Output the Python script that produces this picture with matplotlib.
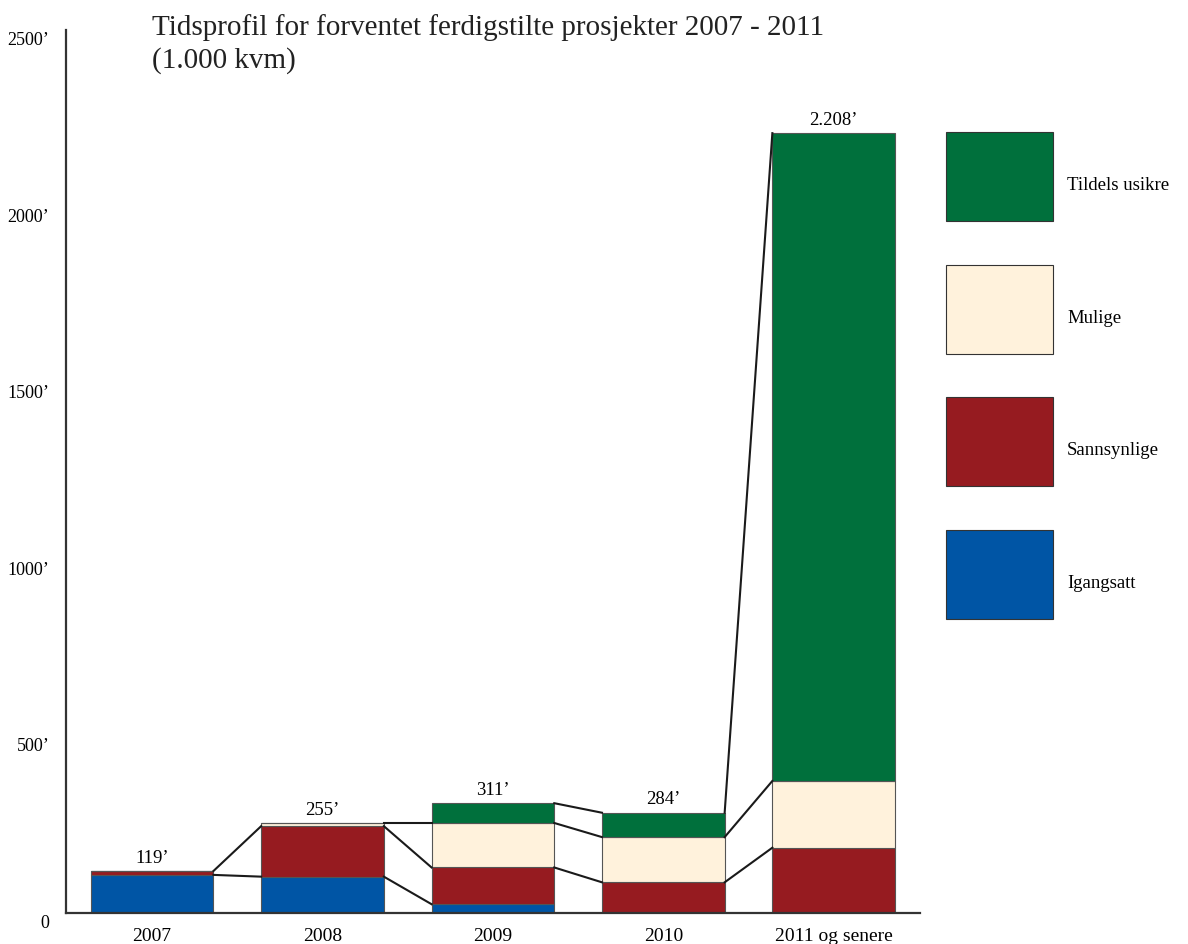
import numpy as np
import matplotlib
matplotlib.use("Agg")
import matplotlib.pyplot as plt
from matplotlib.patches import Rectangle
import matplotlib.transforms as mtransforms

plt.rcParams['font.family'] = ['Liberation Serif', 'DejaVu Serif']

# Ferdigstilte prosjekter (1.000 kvm) per år og status
aar = ["2007", "2008", "2009", "2010", "2011 og senere"]
igangsatt = [108, 103, 25, 0, 0]
sannsynlige = [11, 143, 104, 87, 185]
mulige = [0, 9, 126, 128, 189]
tildels_usikre = [0, 0, 56, 69, 1834]

serier = ["Igangsatt", "Sannsynlige", "Mulige", "Tildels usikre"]
farger = ["#0055a5", "#961b20", "#fff2dc", "#00703c"]
yticks = [0, 500, 1000, 1500, 2000, 2500]

fig = plt.figure(figsize=(11.88, 9.44), dpi=100)
ax = fig.add_axes([0.0556, 0.0328, 0.7189, 0.9354])

verdier = np.array([igangsatt, sannsynlige, mulige, tildels_usikre], dtype=float)
x = np.arange(len(aar))
bredde = 0.72
bunn = np.zeros(len(aar))
topper = []
for i, (navn, farge) in enumerate(zip(serier, farger)):
    ax.bar(x, verdier[i], bredde, bottom=bunn, color=farge,
           edgecolor="#555555", linewidth=0.8, zorder=2)
    bunn = bunn + verdier[i]
    topper.append(bunn.copy())

# seriestreker mellom søylene
for i in range(len(serier)):
    for j in range(len(aar) - 1):
        if verdier[i][j] > 0 and verdier[i][j + 1] > 0:
            ax.plot([x[j] + bredde / 2, x[j + 1] - bredde / 2],
                    [topper[i][j], topper[i][j + 1]],
                    color="#1a1a1a", linewidth=1.5, zorder=3)

# totaler over søylene
totaler = verdier.sum(axis=0)
for xi, t in zip(x, totaler):
    tekst = f"{int(t):,}".replace(",", ".") + "\u2019"
    ax.text(xi, t + 12, tekst, ha="center", va="bottom", fontsize=13.5)

ax.set_xlim(-0.505, 4.507)
ax.set_ylim(0, 2500)
ax.set_xticks(x)
ax.set_xticklabels(aar, fontsize=14)
ax.set_yticks(yticks)
ax.set_yticklabels([f"{v}\u2019" if v else "0" for v in yticks], fontsize=13)
ax.tick_params(axis="both", length=0)
ax.tick_params(axis="x", pad=10.5)
ax.tick_params(axis="y", pad=12)
skift = mtransforms.ScaledTranslation(0, -8.5 / 100, fig.dpi_scale_trans)
for lbl in ax.get_yticklabels():
    lbl.set_transform(lbl.get_transform() + skift)

for s in ["top", "right"]:
    ax.spines[s].set_visible(False)
for s in ["left", "bottom"]:
    ax.spines[s].set_linewidth(1.6)
    ax.spines[s].set_color("#333333")

fig.text(152 / 1188, 1 - 14 / 944,
         "Tidsprofil for forventet ferdigstilte prosjekter 2007 - 2011\n(1.000 kvm)",
         ha="left", va="top", fontsize=21, linespacing=1.28, color="#222222")

# forklaring til høyre
W, H = 1188, 944
for k, (navn, farge) in enumerate(zip(serier[::-1], farger[::-1])):
    y0 = 132 + k * 132.7
    fig.patches.append(Rectangle((946 / W, 1 - (y0 + 89) / H), 107 / W, 89 / H,
                                 transform=fig.transFigure, facecolor=farge,
                                 edgecolor="#333333", linewidth=0.8))
    fig.text(1067 / W, 1 - (y0 + 44.5 + 9) / H, navn, ha="left", va="center",
             fontsize=13.5)

fig.savefig("out.png", dpi=100)
